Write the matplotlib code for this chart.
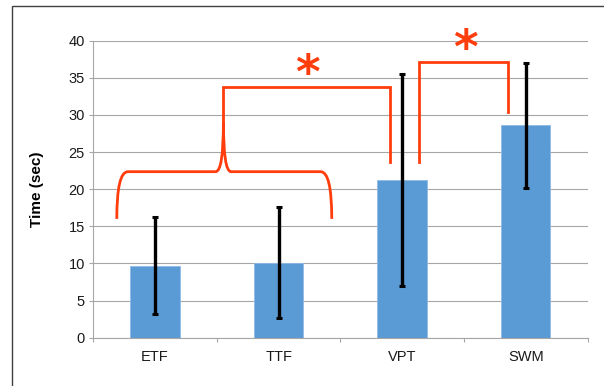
import matplotlib.pyplot as plt
from matplotlib.path import Path
from matplotlib.patches import PathPatch, Rectangle

plt.rcParams['font.family'] = ['Liberation Sans', 'DejaVu Sans']

categories = ['ETF', 'TTF', 'VPT', 'SWM']
mean_time = [9.7, 10.1, 21.2, 28.6]
sd_time = [6.5, 7.5, 14.3, 8.4]
y_ticks = [0, 5, 10, 15, 20, 25, 30, 35, 40]

# significance marks: brace over ETF/TTF, brackets to VPT and SWM
brace_x = [-0.31, 0.49, 0.553, 0.615, 1.43]
brace_y = [16.0, 22.36, 29.0]
bracket1_x = [0.553, 1.902]
bracket1_y = [29.0, 33.8, 23.7]
bracket2_x = [2.14, 2.855]
bracket2_y = [23.7, 37.1, 30.4]
star_xy = [(1.236, 35.3), (2.51, 38.7)]

bar_color = '#5b9bd5'
red = '#ff3d0d'
grid_color = '#a6a6a6'

fig = plt.figure(figsize=(6.04, 3.86), dpi=100)
ax = fig.add_axes([0.1545, 0.1251, 0.8182, 0.7695])

x = range(len(categories))
ax.bar(x, mean_time, width=0.4, color=bar_color, edgecolor='#8fbbe6',
       linewidth=0.6, zorder=2)
ax.errorbar(x, mean_time, yerr=sd_time, fmt='none', ecolor='black',
            elinewidth=2.4, capsize=2.5, capthick=2.2, zorder=3)

ax.set_xlim(-0.5, 3.5)
ax.set_ylim(0, 40)
ax.set_yticks(y_ticks)
ax.set_xticks(list(x))
ax.set_xticklabels(categories)
ax.set_xticks([-0.5, 0.5, 1.5, 2.5, 3.5], minor=True)
ax.tick_params(axis='x', which='major', length=0, pad=9, labelsize=10.5,
               labelcolor='#1a1a1a')
ax.tick_params(axis='x', which='minor', length=3, color=grid_color, width=0.8)
ax.tick_params(axis='y', length=3, color=grid_color, width=0.8, pad=3,
               labelsize=10.5, labelcolor='#1a1a1a')
ax.grid(axis='y', color=grid_color, linewidth=0.8, zorder=0)
ax.set_axisbelow(True)
for side in ['top', 'right']:
    ax.spines[side].set_visible(False)
for side in ['left', 'bottom']:
    ax.spines[side].set_color(grid_color)
    ax.spines[side].set_linewidth(0.8)
ax.set_ylabel('Time (sec)', fontsize=11, fontweight='bold')
ax.yaxis.set_label_coords(-0.1, 0.5)

# curly brace
x0, xl, xc, xr, x1 = brace_x
yb, yh, yt = brace_y
verts = [(x0, yb), (x0, yh), (x0 + 0.09, yh),
         (xl, yh),
         (xc, yh), (xc, yt),
         (xc, yh), (xr, yh),
         (x1 - 0.09, yh),
         (x1, yh), (x1, yb)]
codes = [Path.MOVETO, Path.CURVE3, Path.CURVE3,
         Path.LINETO,
         Path.CURVE3, Path.CURVE3,
         Path.CURVE3, Path.CURVE3,
         Path.LINETO,
         Path.CURVE3, Path.CURVE3]
ax.add_patch(PathPatch(Path(verts, codes), facecolor='none', edgecolor=red,
                       linewidth=2, clip_on=False, zorder=4))

for bx, by in [(bracket1_x, bracket1_y), (bracket2_x, bracket2_y)]:
    ax.plot([bx[0], bx[0], bx[1], bx[1]], [by[0], by[1], by[1], by[2]],
            color=red, linewidth=2, clip_on=False, zorder=4,
            solid_joinstyle='miter')

for sx, sy in star_xy:
    ax.text(sx, sy, '*', color=red, fontsize=34, fontweight='bold',
            family='DejaVu Sans', ha='center', va='center', clip_on=False)

# outer frame
fig.add_artist(Rectangle((12 / 604, -0.1), 1.2, 1 - 6 / 386 + 0.1,
                         transform=fig.transFigure, fill=False,
                         edgecolor='#404040', linewidth=1))

fig.savefig('out.png', dpi=100)
